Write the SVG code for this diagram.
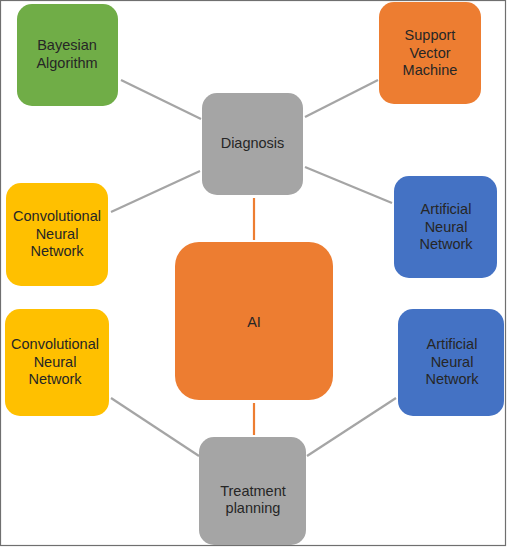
<svg xmlns="http://www.w3.org/2000/svg" width="507" height="547" viewBox="0 0 507 547">
<style>
text{font-family:"Liberation Sans",Arial,sans-serif;font-size:14.5px;fill:#262626;text-anchor:middle}
.g{stroke:#A5A5A5;stroke-width:2.2;fill:none}
.o{stroke:#ED7D31;stroke-width:2.2;fill:none}
.green{fill:#70AD47}.orange{fill:#ED7D31}.gray{fill:#A5A5A5}.yellow{fill:#FFC000}.blue{fill:#4472C4}
</style>
<rect x="0.5" y="0.5" width="505" height="545" fill="#fff" stroke="#6f6f6f" stroke-width="1.2"/>
<g id="connectors">
<line class="g" x1="121" y1="80" x2="201" y2="119"/>
<line class="g" x1="200" y1="171" x2="111" y2="212"/>
<line class="g" x1="305" y1="117" x2="378" y2="80"/>
<line class="g" x1="305" y1="167" x2="392" y2="203"/>
<line class="g" x1="111" y1="398" x2="199" y2="456"/>
<line class="g" x1="307" y1="456" x2="396" y2="398"/>
<line class="o" x1="254" y1="198" x2="254" y2="240"/>
<line class="o" x1="254" y1="403" x2="254" y2="435"/>
</g>
<g id="bayesian"><rect class="green" x="17" y="4" width="101" height="102" rx="15"/><text x="67" y="50">Bayesian</text><text x="67" y="68">Algorithm</text></g>
<g id="diagnosis"><rect class="gray" x="202" y="93" width="101" height="102" rx="15"/><text x="252.5" y="148">Diagnosis</text></g>
<g id="svm"><rect class="orange" x="379" y="2" width="102" height="102" rx="15"/><text x="430" y="40">Support</text><text x="430" y="57.5">Vector</text><text x="430" y="75">Machine</text></g>
<g id="cnn-top"><rect class="yellow" x="6" y="183" width="102" height="103" rx="15"/><text x="57" y="221">Convolutional</text><text x="57" y="238.5">Neural</text><text x="57" y="256">Network</text></g>
<g id="ai"><rect class="orange" x="175" y="242" width="158" height="158" rx="24"/><text x="254" y="327">AI</text></g>
<g id="ann-top"><rect class="blue" x="394" y="176" width="103" height="102" rx="15"/><text x="446" y="214">Artificial</text><text x="446" y="231.5">Neural</text><text x="446" y="249">Network</text></g>
<g id="cnn-bottom"><rect class="yellow" x="5" y="309" width="104" height="107" rx="15"/><text x="55" y="349">Convolutional</text><text x="55" y="366.5">Neural</text><text x="55" y="384">Network</text></g>
<g id="ann-bottom"><rect class="blue" x="398" y="309" width="106" height="107" rx="15"/><text x="452" y="349">Artificial</text><text x="452" y="366.5">Neural</text><text x="452" y="384">Network</text></g>
<g id="treatment"><rect class="gray" x="199" y="437" width="107" height="108" rx="15"/><text x="253" y="496">Treatment</text><text x="253" y="513">planning</text></g>
</svg>
